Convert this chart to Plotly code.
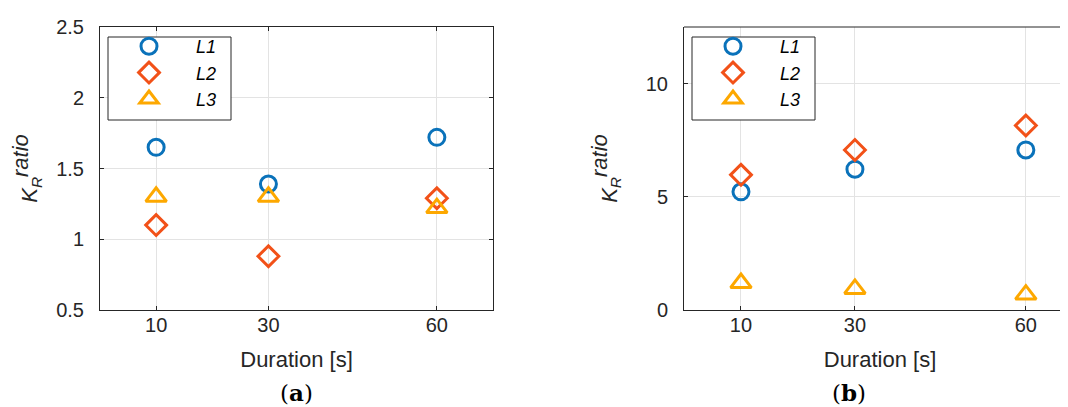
import plotly.graph_objects as go

durations = [10, 30, 60]
series_names = ["L1", "L2", "L3"]
# panel (a)
a_L1 = [1.65, 1.39, 1.72]
a_L2 = [1.10, 0.88, 1.29]
a_L3 = [1.30, 1.30, 1.22]
# panel (b)
b_L1 = [5.22, 6.22, 7.07]
b_L2 = [5.97, 7.07, 8.15]
b_L3 = [1.19, 0.93, 0.68]

colors = ["#0A72BA", "#F25118", "#FDA800"]
symbols = ["circle-open", "diamond-open", "triangle-up-open"]
sizes = [16, 16, 18]

W, H = 1068, 407
def px_x(p): return p / W
def px_y(p): return 1 - p / H

fig = go.Figure()
for panel, (data, xa, ya, leg) in enumerate([
        ([a_L1, a_L2, a_L3], "x", "y", "legend"),
        ([b_L1, b_L2, b_L3], "x2", "y2", "legend2")]):
    for i, name in enumerate(series_names):
        fig.add_trace(go.Scatter(
            x=durations, y=data[i], mode="markers", name=f"<i>{name}</i>",
            xaxis=xa, yaxis=ya, legend=leg,
            marker=dict(symbol=symbols[i], size=sizes[i], color=colors[i],
                        line=dict(width=3, color=colors[i]))))

FAM = "Liberation Sans, Arial, sans-serif"
axis_font = dict(family=FAM, size=20, color="#262626")
title_font = dict(family=FAM, size=22, color="#262626")
common_x = dict(tickvals=durations, ticks="inside", ticklen=4, tickcolor="#262626",
                showline=True, linecolor="#262626", linewidth=1,
                showgrid=True, gridcolor="#E3E3E3", gridwidth=1, zeroline=False,
                tickfont=axis_font, automargin=False, ticklabelstandoff=-3)
common_y = dict(ticks="inside", ticklen=4, tickcolor="#262626",
                showline=True, linecolor="#262626", linewidth=1,
                showgrid=True, gridcolor="#E3E3E3", zeroline=False,
                tickfont=axis_font, automargin=False, ticklabelstandoff=11)
ytitle = "<i>K<sub>R</sub><sup><span style='font-size:22px'>ratio</span></sup></i>"

legend_font = dict(family=FAM, size=18, color="black")

fig.update_layout(
    width=W, height=H, margin=dict(l=0, r=0, t=0, b=0),
    paper_bgcolor="white", plot_bgcolor="white",
    showlegend=True,
    xaxis=dict(domain=[px_x(92), px_x(485)], range=[0, 70], anchor="y", mirror="ticks",
               title=dict(text="Duration [s]", font=title_font, standoff=16), **common_x),
    yaxis=dict(domain=[px_y(302), px_y(19)], range=[0.5, 2.5], anchor="x", mirror="ticks",
               tickvals=[0.5, 1, 1.5, 2, 2.5], ticktext=["0.5", "1", "1.5", "2", "2.5"],
               title=dict(text=ytitle, font=title_font, standoff=22), **common_y),
    xaxis2=dict(domain=[px_x(676), 1.0], range=[0, 68.8], anchor="y2", mirror=False,
                title=dict(text="Duration [s]", font=title_font, standoff=16), **common_x),
    yaxis2=dict(domain=[px_y(302), px_y(19)], range=[0, 12.5], anchor="x2", mirror=False,
                tickvals=[0, 5, 10], ticktext=["0", "5", "10"],
                title=dict(text=ytitle, font=title_font, standoff=22), **common_y),
    legend=dict(x=px_x(94), y=px_y(20), xanchor="left", yanchor="top",
                bgcolor="rgba(0,0,0,0)", borderwidth=0,
                itemwidth=84, font=legend_font),
    legend2=dict(x=px_x(678), y=px_y(20), xanchor="left", yanchor="top",
                 bgcolor="rgba(0,0,0,0)", borderwidth=0,
                 itemwidth=84, font=legend_font),
    shapes=[
        dict(type="line", xref="x2 domain", yref="y2 domain", x0=0, x1=1, y0=1, y1=1,
             line=dict(color="#262626", width=1)),
        dict(type="rect", xref="paper", yref="paper", layer="above",
             x0=px_x(100), x1=px_x(223), y0=px_y(112), y1=px_y(29),
             fillcolor="white", line=dict(color="#262626", width=1)),
        dict(type="rect", xref="paper", yref="paper", layer="above",
             x0=px_x(684), x1=px_x(807), y0=px_y(112), y1=px_y(29),
             fillcolor="white", line=dict(color="#262626", width=1)),
    ],
    annotations=[
        dict(text="(<b>a</b>)", x=px_x(270), y=px_y(400), xref="paper", yref="paper",
             yanchor="bottom", showarrow=False,
             font=dict(family="DejaVu Serif, serif", size=23, color="black")),
        dict(text="(<b>b</b>)", x=px_x(860), y=px_y(400), xref="paper", yref="paper",
             yanchor="bottom", showarrow=False,
             font=dict(family="DejaVu Serif, serif", size=23, color="black")),
    ],
)

fig.write_html("out.html")
